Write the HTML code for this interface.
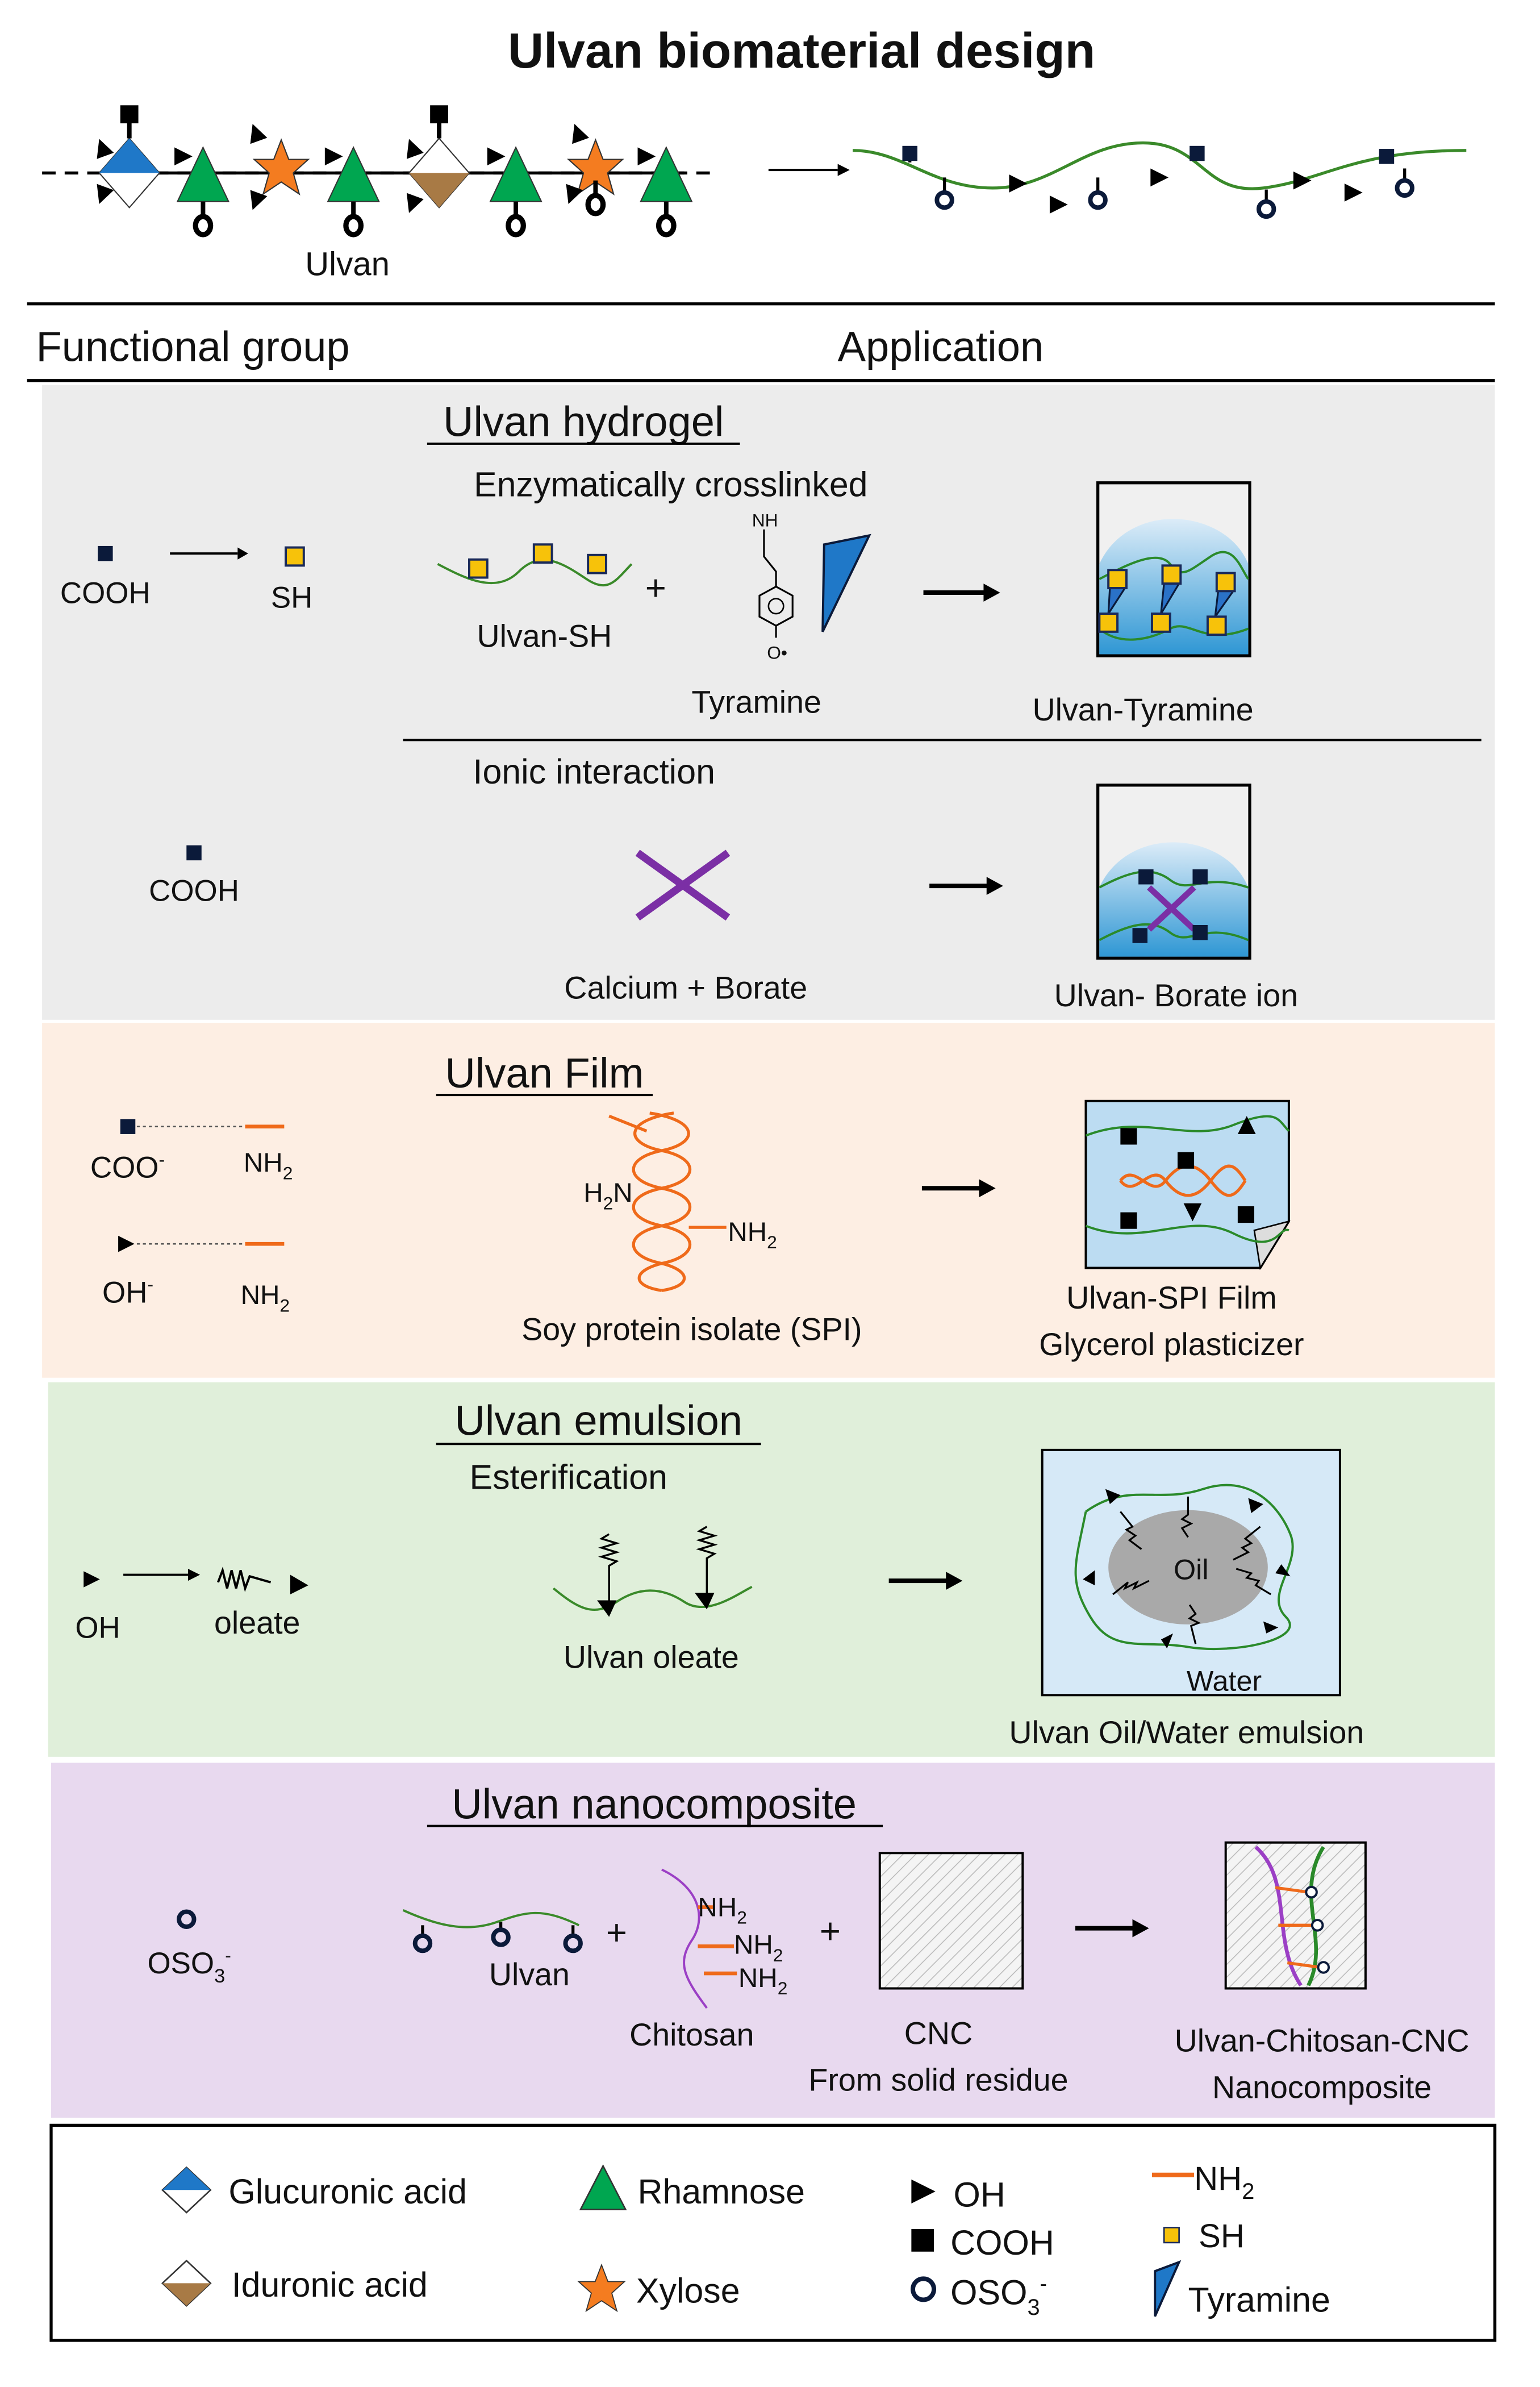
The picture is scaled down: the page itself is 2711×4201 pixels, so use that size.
<!DOCTYPE html>
<html><head><meta charset="utf-8"><style>
html,body{margin:0;padding:0;background:#fff}
svg{display:block}
text{font-family:"Liberation Sans",sans-serif;fill:#111}
</style></head><body>
<svg width="2711" height="4201" viewBox="0 0 1024 1587" preserveAspectRatio="none" xmlns="http://www.w3.org/2000/svg">
<defs>
<linearGradient id="bl" x1="0" y1="0" x2="0" y2="1"><stop offset="0" stop-color="#dcecf8"/><stop offset="1" stop-color="#2f97d4"/></linearGradient>
<pattern id="hatch" width="6" height="6" patternUnits="userSpaceOnUse" patternTransform="rotate(45)"><rect width="6" height="6" fill="#f4f4f4"/><line x1="0" y1="0" x2="0" y2="6" stroke="#bbb" stroke-width="1.2"/></pattern>
<g id="tri"><polygon points="0,-20 -17,16 17,16" fill="#00a650" stroke="#333" stroke-width="0.8"/></g>
<g id="star"><polygon points="0,-19 5,-6 18,-6 8,3 12,17 0,9 -12,17 -8,3 -18,-6 -5,-6" fill="#f47c20" stroke="#333" stroke-width="0.8"/></g>
<g id="ring"><line x1="0" y1="0" x2="0" y2="10" stroke="#000" stroke-width="3"/><ellipse cx="0" cy="16" rx="5" ry="6" fill="none" stroke="#000" stroke-width="3.5"/></g>
<g id="ring2"><circle cx="0" cy="0" r="5" fill="none" stroke="#0b1a3a" stroke-width="3"/></g>
<g id="sq"><rect x="-5" y="-5" width="10" height="10" fill="#0b1a3a"/></g>
<g id="ysq"><rect x="-6" y="-6" width="12" height="12" fill="#f7c20a" stroke="#1a2a5a" stroke-width="1.5"/></g>
<g id="arr"><polygon points="-6,-6 6,0 -6,6" fill="#000"/></g>
</defs>

<text x="533" y="45" font-size="33" font-weight="bold" text-anchor="middle">Ulvan biomaterial design</text>

<line x1="28" y1="115" x2="478" y2="115" stroke="#000" stroke-width="2" stroke-dasharray="9,6"/>
<line x1="70" y1="115" x2="455" y2="115" stroke="#000" stroke-width="2"/>
<polygon points="86,92 106,115 86,138 66,115" fill="#fff" stroke="#333" stroke-width="0.8"/>
<polygon points="86,92 106,115 66,115" fill="#1f78c8"/>
<line x1="86" y1="92" x2="86" y2="80" stroke="#000" stroke-width="3"/><rect x="80" y="70" width="12" height="12" fill="#000"/>
<use href="#arr" transform="translate(68,98) rotate(-110)"/>
<use href="#arr" transform="translate(68,130) rotate(110)"/>
<use href="#tri" transform="translate(135,118)"/><use href="#ring" transform="translate(135,134)"/>
<use href="#arr" transform="translate(122,104)"/>
<use href="#arr" transform="translate(170,88) rotate(-110)"/>
<use href="#star" transform="translate(187,112)"/>
<use href="#arr" transform="translate(170,134) rotate(110)"/>
<use href="#tri" transform="translate(235,118)"/><use href="#ring" transform="translate(235,134)"/>
<use href="#arr" transform="translate(222,104)"/>
<polygon points="292,92 312,115 292,138 272,115" fill="#fff" stroke="#333" stroke-width="0.8"/>
<polygon points="272,115 312,115 292,138" fill="#a87a45"/>
<line x1="292" y1="92" x2="292" y2="80" stroke="#000" stroke-width="3"/><rect x="286" y="70" width="12" height="12" fill="#000"/>
<use href="#arr" transform="translate(274,98) rotate(-110)"/>
<use href="#arr" transform="translate(274,136) rotate(110)"/>
<use href="#tri" transform="translate(343,118)"/><use href="#ring" transform="translate(343,134)"/>
<use href="#arr" transform="translate(330,104)"/>
<use href="#arr" transform="translate(384,88) rotate(-110)"/>
<use href="#star" transform="translate(396,112)"/>
<use href="#ring" transform="translate(396,120)"/>
<use href="#arr" transform="translate(380,130) rotate(110)"/>
<use href="#tri" transform="translate(443,118)"/><use href="#ring" transform="translate(443,134)"/>
<use href="#arr" transform="translate(430,104)"/>
<text x="231" y="183" font-size="22" text-anchor="middle">Ulvan</text>

<line x1="511" y1="113" x2="557" y2="113" stroke="#000" stroke-width="1.5"/><polygon points="557,109 565,113 557,117" fill="#000"/>
<path d="M567,100 C600,100 620,125 660,125 S720,95 760,95 S800,130 840,125 S900,100 975,100" fill="none" stroke="#3a8a2a" stroke-width="2"/>
<line x1="605" y1="102" x2="605" y2="108" stroke="#000" stroke-width="2"/><use href="#sq" transform="translate(605,102)"/>
<line x1="628" y1="118" x2="628" y2="128" stroke="#000" stroke-width="2"/><use href="#ring2" transform="translate(628,133)"/>
<use href="#arr" transform="translate(677,122)"/><use href="#arr" transform="translate(704,136)"/>
<line x1="730" y1="118" x2="730" y2="128" stroke="#000" stroke-width="2"/><use href="#ring2" transform="translate(730,133)"/>
<use href="#arr" transform="translate(771,118)"/>
<use href="#sq" transform="translate(796,102)"/>
<line x1="842" y1="126" x2="842" y2="134" stroke="#000" stroke-width="2"/><use href="#ring2" transform="translate(842,139)"/>
<use href="#arr" transform="translate(866,120)"/><use href="#arr" transform="translate(900,128)"/>
<use href="#sq" transform="translate(922,104)"/>
<line x1="934" y1="112" x2="934" y2="120" stroke="#000" stroke-width="2"/><use href="#ring2" transform="translate(934,125)"/>

<line x1="18" y1="202" x2="994" y2="202" stroke="#000" stroke-width="2"/>
<text x="24" y="240" font-size="28">Functional group</text>
<text x="557" y="240" font-size="28">Application</text>
<line x1="18" y1="253" x2="994" y2="253" stroke="#000" stroke-width="2"/>

<rect x="28" y="256" width="966" height="422" fill="#ececec"/>
<rect x="28" y="680" width="966" height="236" fill="#fdeee3"/>
<rect x="32" y="919" width="962" height="249" fill="#e0efda"/>
<rect x="34" y="1172" width="960" height="236" fill="#e8d9ef"/>

<text x="388" y="290" font-size="28" text-anchor="middle">Ulvan hydrogel</text>
<line x1="284" y1="295" x2="492" y2="295" stroke="#000" stroke-width="1.5"/>
<text x="446" y="330" font-size="23" text-anchor="middle">Enzymatically crosslinked</text>
<use href="#sq" transform="translate(70,368)"/>
<text x="70" y="401" font-size="20" text-anchor="middle">COOH</text>
<line x1="113" y1="368" x2="158" y2="368" stroke="#000" stroke-width="1.5"/><polygon points="158,364 165,368 158,372" fill="#000"/>
<use href="#ysq" transform="translate(196,370)"/>
<text x="194" y="404" font-size="20" text-anchor="middle">SH</text>
<path d="M291,375 C310,385 330,395 345,380 S375,375 390,385 S410,385 420,375" fill="none" stroke="#3a8a2a" stroke-width="1.5"/>
<use href="#ysq" transform="translate(318,378)"/><use href="#ysq" transform="translate(361,368)"/><use href="#ysq" transform="translate(397,375)"/>
<text x="436" y="399" font-size="24" text-anchor="middle">+</text>
<text x="362" y="430" font-size="21" text-anchor="middle">Ulvan-SH</text>
<text x="500" y="350" font-size="12" font-family="Liberation Serif">NH</text>
<path d="M508,352 L508,370 L516,380 L516,390" fill="none" stroke="#000" stroke-width="1.2"/>
<polygon points="516,390 527,396 527,410 516,416 505,410 505,396" fill="none" stroke="#000" stroke-width="1.2"/>
<circle cx="516" cy="403" r="5" fill="none" stroke="#000" stroke-width="1"/>
<line x1="516" y1="416" x2="516" y2="424" stroke="#000" stroke-width="1.2"/>
<text x="510" y="438" font-size="12" font-family="Liberation Serif">O•</text>
<polygon points="548,362 578,356 547,420" fill="#1f78c8" stroke="#0b1a3a" stroke-width="1.5"/>
<text x="503" y="474" font-size="21" text-anchor="middle">Tyramine</text>
<line x1="614" y1="394" x2="656" y2="394" stroke="#000" stroke-width="3"/><polygon points="654,388 665,394 654,400" fill="#000"/>
<rect x="730" y="321" width="101" height="115" fill="#f0f0f0" stroke="#000" stroke-width="2"/>
<path d="M731,435 L731,375 C740,355 760,345 780,345 S822,355 830,375 L830,435 Z" fill="url(#bl)"/>
<path d="M731,385 C750,375 770,365 778,375 S790,380 805,370 S825,378 830,385" fill="none" stroke="#2a8a2a" stroke-width="1.5"/>
<path d="M731,418 C745,430 765,425 778,418 S800,430 830,418" fill="none" stroke="#2a8a2a" stroke-width="1.5"/>
<g fill="#2a72c8" stroke="#0b1a3a" stroke-width="1.2">
<polygon points="738,391 748,391 737,408"/><polygon points="774,388 784,388 772,408"/><polygon points="810,393 820,393 808,410"/></g>
<use href="#ysq" transform="translate(743,385)"/><use href="#ysq" transform="translate(737,414)"/>
<use href="#ysq" transform="translate(779,382)"/><use href="#ysq" transform="translate(772,414)"/>
<use href="#ysq" transform="translate(815,387)"/><use href="#ysq" transform="translate(809,416)"/>
<text x="760" y="479" font-size="21" text-anchor="middle">Ulvan-Tyramine</text>
<line x1="268" y1="492" x2="985" y2="492" stroke="#000" stroke-width="1.5"/>
<text x="395" y="521" font-size="23" text-anchor="middle">Ionic  interaction</text>
<use href="#sq" transform="translate(129,567)"/>
<text x="129" y="599" font-size="20" text-anchor="middle">COOH</text>
<line x1="424" y1="567" x2="484" y2="610" stroke="#7b2fa5" stroke-width="5"/><line x1="484" y1="567" x2="424" y2="610" stroke="#7b2fa5" stroke-width="5"/>
<text x="456" y="664" font-size="21" text-anchor="middle">Calcium + Borate</text>
<line x1="618" y1="589" x2="658" y2="589" stroke="#000" stroke-width="3"/><polygon points="656,583 667,589 656,595" fill="#000"/>
<rect x="730" y="522" width="101" height="115" fill="#f0f0f0" stroke="#000" stroke-width="2"/>
<path d="M731,636 L731,590 C740,570 760,560 780,560 S822,570 830,590 L830,636 Z" fill="url(#bl)"/>
<path d="M731,590 C750,580 765,575 778,585 S800,580 830,590" fill="none" stroke="#2a8a2a" stroke-width="1.5"/>
<path d="M731,625 C750,615 765,610 778,620 S800,612 830,625" fill="none" stroke="#2a8a2a" stroke-width="1.5"/>
<line x1="764" y1="590" x2="794" y2="618" stroke="#7b2fa5" stroke-width="4"/><line x1="794" y1="590" x2="764" y2="618" stroke="#7b2fa5" stroke-width="4"/>
<use href="#sq" transform="translate(762,583)"/><use href="#sq" transform="translate(798,583)"/><use href="#sq" transform="translate(758,622)"/><use href="#sq" transform="translate(798,620)"/>
<text x="782" y="669" font-size="21" text-anchor="middle">Ulvan- Borate ion</text>

<text x="362" y="723" font-size="28" text-anchor="middle">Ulvan Film</text>
<line x1="290" y1="728" x2="434" y2="728" stroke="#000" stroke-width="1.5"/>
<use href="#sq" transform="translate(85,749)"/>
<line x1="91" y1="749" x2="163" y2="749" stroke="#555" stroke-width="1" stroke-dasharray="2,2"/>
<line x1="163" y1="749" x2="189" y2="749" stroke="#ef6a1a" stroke-width="2.5"/>
<text x="60" y="783" font-size="20">COO<tspan font-size="12" dy="-8">-</tspan></text>
<text x="162" y="779" font-size="18">NH<tspan font-size="12" dy="5">2</tspan></text>
<use href="#arr" transform="translate(84,827) scale(0.9)"/>
<line x1="91" y1="827" x2="163" y2="827" stroke="#555" stroke-width="1" stroke-dasharray="2,2"/>
<line x1="163" y1="827" x2="189" y2="827" stroke="#ef6a1a" stroke-width="2.5"/>
<text x="68" y="866" font-size="20">OH<tspan font-size="12" dy="-8">-</tspan></text>
<text x="160" y="867" font-size="18">NH<tspan font-size="12" dy="5">2</tspan></text>
<g fill="none" stroke="#ef6a1a" stroke-width="2">
<path d="M432,740 C465,745 465,760 440,765 C415,770 415,785 440,790 C465,795 465,810 440,815 C415,820 415,835 440,840 C460,845 460,855 440,858"/>
<path d="M448,740 C415,745 415,760 440,765 C465,770 465,785 440,790 C415,795 415,810 440,815 C465,820 465,835 440,840 C420,845 420,855 440,858"/>
<line x1="405" y1="742" x2="430" y2="752"/><line x1="458" y1="816" x2="483" y2="816"/>
</g>
<text x="388" y="799" font-size="18">H<tspan font-size="12" dy="5">2</tspan><tspan dy="-5">N</tspan></text>
<text x="484" y="825" font-size="18">NH<tspan font-size="12" dy="5">2</tspan></text>
<text x="460" y="891" font-size="21" text-anchor="middle">Soy protein isolate (SPI)</text>
<line x1="613" y1="790" x2="653" y2="790" stroke="#000" stroke-width="3"/><polygon points="651,784 662,790 651,796" fill="#000"/>
<path d="M722,732 L857,732 L857,812 L838,843 L722,843 Z" fill="#bcdcf2" stroke="#000" stroke-width="1.5"/>
<path d="M857,812 L838,843 L834,818 Z" fill="#ddd" stroke="#000" stroke-width="1"/>
<path d="M722,755 C760,740 790,760 820,748 S850,745 857,752" fill="none" stroke="#2a8a2a" stroke-width="1.5"/>
<path d="M722,815 C760,830 790,805 820,820 S850,815 857,818" fill="none" stroke="#2a8a2a" stroke-width="1.5"/>
<path d="M745,785 C755,772 765,798 775,785 S795,772 805,785 S820,798 828,785" fill="none" stroke="#ef6a1a" stroke-width="2"/>
<path d="M745,785 C755,798 765,772 775,785 S795,798 805,785 S820,772 828,785" fill="none" stroke="#ef6a1a" stroke-width="2"/>
<rect x="745" y="750" width="11" height="11" fill="#000"/><rect x="783" y="766" width="11" height="11" fill="#000"/><rect x="745" y="806" width="11" height="11" fill="#000"/><rect x="823" y="802" width="11" height="11" fill="#000"/>
<polygon points="829,742 823,754 835,754" fill="#000"/><polygon points="793,812 787,800 799,800" fill="#000"/>
<text x="779" y="870" font-size="21" text-anchor="middle">Ulvan-SPI Film</text>
<text x="779" y="901" font-size="21" text-anchor="middle">Glycerol plasticizer</text>

<text x="398" y="954" font-size="28" text-anchor="middle">Ulvan emulsion</text>
<line x1="290" y1="960" x2="506" y2="960" stroke="#000" stroke-width="1.5"/>
<text x="378" y="990" font-size="23" text-anchor="middle">Esterification</text>
<use href="#arr" transform="translate(61,1050) scale(0.9)"/>
<text x="65" y="1089" font-size="20" text-anchor="middle">OH</text>
<line x1="82" y1="1047" x2="125" y2="1047" stroke="#000" stroke-width="1.5"/><polygon points="125,1043 133,1047 125,1051" fill="#000"/>
<path d="M145,1052 l3,-8 l3,12 l3,-12 l3,12 l3,-12 l3,12 l3,-8 l14,4" fill="none" stroke="#000" stroke-width="1.5"/>
<polygon points="193,1047 205,1054 193,1060" fill="#000"/>
<text x="171" y="1086" font-size="21" text-anchor="middle">oleate</text>
<path d="M368,1056 C385,1070 395,1075 410,1065 S440,1055 455,1065 S490,1060 500,1055" fill="none" stroke="#3a8a2a" stroke-width="1.5"/>
<path d="M405,1020 l-5,3 l10,3 l-10,3 l10,3 l-10,3 l10,3 l-5,3 l0,25" fill="none" stroke="#000" stroke-width="1.3"/><polygon points="397,1064 405,1075 410,1064" fill="#000"/>
<path d="M470,1015 l-5,3 l10,3 l-10,3 l10,3 l-10,3 l10,3 l-5,3 l0,25" fill="none" stroke="#000" stroke-width="1.3"/><polygon points="462,1059 470,1070 475,1059" fill="#000"/>
<text x="433" y="1109" font-size="21" text-anchor="middle">Ulvan oleate</text>
<line x1="591" y1="1051" x2="631" y2="1051" stroke="#000" stroke-width="3"/><polygon points="629,1045 640,1051 629,1057" fill="#000"/>
<rect x="693" y="964" width="198" height="163" fill="#d6e9f7" stroke="#000" stroke-width="1.5"/>
<ellipse cx="790" cy="1042" rx="53" ry="38" fill="#a9a9a9"/>
<text x="792" y="1050" font-size="19" text-anchor="middle">Oil</text>
<path d="M722,1005 C750,985 770,1000 800,990 S850,1000 858,1020 S840,1060 855,1075 S820,1100 790,1095 S740,1100 725,1075 S715,1040 722,1005" fill="none" stroke="#2a8a2a" stroke-width="1.5"/>
<g stroke="#000" stroke-width="1.2" fill="none">
<path d="M745,1005 l8,10 l-4,2 l6,4 l-4,3 l8,6"/><path d="M790,995 l0,12 l-4,3 l6,3 l-6,3 l4,6"/><path d="M838,1015 l-10,8 l4,3 l-6,3 l4,3 l-10,5"/>
<path d="M740,1060 l10,-8 l-2,4 l8,-4 l-2,4 l10,-5"/><path d="M795,1093 l-3,-12 l5,-2 l-6,-3 l4,-3 l-4,-6"/><path d="M845,1060 l-10,-6 l2,-3 l-8,-2 l3,-3 l-10,-3"/>
</g>
<polygon points="735,990 745,994 738,1000" fill="#000"/><polygon points="830,996 840,1000 832,1006" fill="#000"/><polygon points="852,1040 858,1048 848,1046" fill="#000"/><polygon points="720,1050 728,1044 728,1054" fill="#000"/><polygon points="772,1090 780,1086 776,1096" fill="#000"/><polygon points="840,1078 850,1082 842,1086" fill="#000"/>
<text x="814" y="1124" font-size="19" text-anchor="middle">Water</text>
<text x="789" y="1159" font-size="21" text-anchor="middle">Ulvan Oil/Water emulsion</text>

<text x="435" y="1209" font-size="28" text-anchor="middle">Ulvan nanocomposite</text>
<line x1="284" y1="1214" x2="587" y2="1214" stroke="#000" stroke-width="1.5"/>
<use href="#ring2" transform="translate(124,1276)"/>
<text x="98" y="1312" font-size="20">OSO<tspan font-size="13" dy="6">3</tspan><tspan font-size="12" dy="-14">-</tspan></text>
<path d="M268,1270 C290,1280 310,1285 330,1278 S360,1268 385,1280" fill="none" stroke="#3a8a2a" stroke-width="1.5"/>
<line x1="281" y1="1280" x2="281" y2="1287" stroke="#000" stroke-width="2"/><use href="#ring2" transform="translate(281,1292)"/>
<line x1="333" y1="1278" x2="333" y2="1283" stroke="#000" stroke-width="2"/><use href="#ring2" transform="translate(333,1288)"/>
<line x1="381" y1="1280" x2="381" y2="1287" stroke="#000" stroke-width="2"/><use href="#ring2" transform="translate(381,1292)"/>
<text x="410" y="1293" font-size="24" text-anchor="middle">+</text>
<text x="352" y="1320" font-size="21" text-anchor="middle">Ulvan</text>
<path d="M440,1243 C465,1255 470,1275 460,1290 S455,1315 470,1335" fill="none" stroke="#9b3fc5" stroke-width="1.5"/>
<line x1="464" y1="1268" x2="474" y2="1268" stroke="#ef6a1a" stroke-width="2.5"/>
<line x1="464" y1="1294" x2="488" y2="1294" stroke="#ef6a1a" stroke-width="2.5"/>
<line x1="468" y1="1312" x2="490" y2="1312" stroke="#ef6a1a" stroke-width="2.5"/>
<text x="464" y="1274" font-size="18">NH<tspan font-size="12" dy="5">2</tspan></text>
<text x="488" y="1299" font-size="18">NH<tspan font-size="12" dy="5">2</tspan></text>
<text x="491" y="1321" font-size="18">NH<tspan font-size="12" dy="5">2</tspan></text>
<text x="460" y="1360" font-size="21" text-anchor="middle">Chitosan</text>
<text x="552" y="1292" font-size="24" text-anchor="middle">+</text>
<rect x="585" y="1232" width="95" height="90" fill="url(#hatch)" stroke="#000" stroke-width="1.5"/>
<text x="624" y="1359" font-size="21" text-anchor="middle">CNC</text>
<text x="624" y="1390" font-size="21" text-anchor="middle">From solid residue</text>
<line x1="715" y1="1282" x2="755" y2="1282" stroke="#000" stroke-width="3"/><polygon points="753,1276 764,1282 753,1288" fill="#000"/>
<rect x="815" y="1225" width="93" height="97" fill="url(#hatch)" stroke="#000" stroke-width="1.5"/>
<path d="M835,1228 C860,1250 845,1290 865,1320" fill="none" stroke="#9b3fc5" stroke-width="2.5"/>
<path d="M880,1228 C860,1260 885,1290 870,1320" fill="none" stroke="#2a8a2a" stroke-width="2.5"/>
<line x1="848" y1="1255" x2="870" y2="1258" stroke="#ef6a1a" stroke-width="2"/><line x1="850" y1="1280" x2="874" y2="1280" stroke="#ef6a1a" stroke-width="2"/><line x1="856" y1="1305" x2="878" y2="1308" stroke="#ef6a1a" stroke-width="2"/>
<circle cx="872" cy="1258" r="3.5" fill="#fff" stroke="#0b1a3a" stroke-width="1.5"/><circle cx="876" cy="1280" r="3.5" fill="#fff" stroke="#0b1a3a" stroke-width="1.5"/><circle cx="880" cy="1308" r="3.5" fill="#fff" stroke="#0b1a3a" stroke-width="1.5"/>
<text x="879" y="1364" font-size="21" text-anchor="middle">Ulvan-Chitosan-CNC</text>
<text x="879" y="1395" font-size="21" text-anchor="middle">Nanocomposite</text>

<rect x="34" y="1413" width="960" height="143" fill="#fff" stroke="#000" stroke-width="2"/>
<polygon points="124,1441 140,1456 124,1471 108,1456" fill="#fff" stroke="#333"/>
<polygon points="124,1441 140,1456 108,1456" fill="#1f78c8"/>
<text x="152" y="1465" font-size="23">Glucuronic acid</text>
<polygon points="124,1503 140,1518 124,1533 108,1518" fill="#fff" stroke="#333"/>
<polygon points="108,1518 140,1518 124,1533" fill="#a87a45"/>
<text x="154" y="1527" font-size="23">Iduronic acid</text>
<polygon points="401,1440 386,1469 416,1469" fill="#00a650" stroke="#333"/>
<text x="424" y="1465" font-size="23">Rhamnose</text>
<use href="#star" transform="translate(400,1522) scale(0.85)"/>
<text x="423" y="1531" font-size="23">Xylose</text>
<polygon points="606,1449 622,1457 606,1465" fill="#000"/>
<text x="634" y="1467" font-size="23">OH</text>
<rect x="606" y="1482" width="15" height="15" fill="#000"/>
<text x="632" y="1499" font-size="23">COOH</text>
<circle cx="614" cy="1522" r="7" fill="none" stroke="#0b1a3a" stroke-width="3"/>
<text x="632" y="1532" font-size="23">OSO<tspan font-size="15" dy="7">3</tspan><tspan font-size="14" dy="-16">-</tspan></text>
<line x1="766" y1="1446" x2="794" y2="1446" stroke="#ef6a1a" stroke-width="3"/>
<text x="794" y="1456" font-size="22">NH<tspan font-size="15" dy="6">2</tspan></text>
<rect x="774" y="1481" width="10" height="10" fill="#f7c20a" stroke="#1a2a5a" stroke-width="1"/>
<text x="797" y="1494" font-size="22">SH</text>
<polygon points="768,1510 784,1504 768,1540" fill="#1f78c8" stroke="#0b1a3a" stroke-width="1.5"/>
<text x="790" y="1537" font-size="23">Tyramine</text>
</svg>
</body></html>
